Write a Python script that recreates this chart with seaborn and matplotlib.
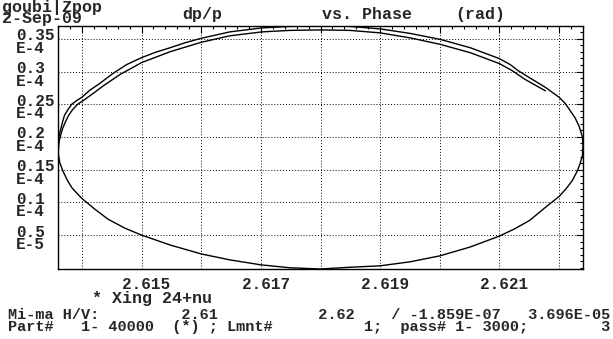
import numpy as np
import pandas as pd
import matplotlib
matplotlib.use("Agg")
import matplotlib.pyplot as plt
from matplotlib.ticker import MultipleLocator
from matplotlib.transforms import ScaledTranslation
import seaborn as sns

# outer turn (closed loop); dp/p in units of 1e-5
phase_outer = [2.61360, 2.61361, 2.61362, 2.61365, 2.61368, 2.61371, 2.61377, 2.61383,
               2.61392, 2.61400, 2.61413, 2.61430, 2.61452, 2.61475, 2.61500, 2.61524,
               2.61548, 2.61573, 2.61600, 2.61648, 2.61702, 2.61749, 2.61800, 2.61849,
               2.61900, 2.61950, 2.62000, 2.62051, 2.62100, 2.62118, 2.62131, 2.62151,
               2.62177, 2.62200, 2.62210, 2.62218, 2.62227, 2.62234, 2.62239, 2.62240,
               2.62239, 2.62235, 2.62230, 2.62222, 2.62212, 2.62200, 2.62177, 2.62151,
               2.62126, 2.62100, 2.62051, 2.62000, 2.61950, 2.61900, 2.61849, 2.61800,
               2.61749, 2.61700, 2.61648, 2.61600, 2.61548, 2.61500, 2.61472, 2.61444,
               2.61422, 2.61400, 2.61392, 2.61383, 2.61375, 2.61368, 2.61363, 2.61361,
               2.61360]
dpp_outer = [1.803, 1.924, 2.030, 2.136, 2.242, 2.333, 2.424, 2.500,
             2.561, 2.606, 2.712, 2.818, 2.970, 3.106, 3.212, 3.296,
             3.364, 3.440, 3.508, 3.606, 3.667, 3.690, 3.696, 3.690,
             3.652, 3.583, 3.493, 3.364, 3.197, 3.106, 3.015, 2.902,
             2.758, 2.606, 2.515, 2.409, 2.288, 2.152, 2.000, 1.864,
             1.712, 1.591, 1.470, 1.333, 1.212, 1.091, 0.924, 0.727,
             0.598, 0.485, 0.318, 0.182, 0.091, 0.030, 0.008, -0.0186,
             0.000, 0.045, 0.121, 0.212, 0.348, 0.500, 0.606, 0.742,
             0.894, 1.061, 1.136, 1.227, 1.349, 1.485, 1.606, 1.712,
             1.803]

# inner turn (open, ends top right)
phase_inner = [2.61360, 2.61361, 2.61362, 2.61365, 2.61368, 2.61373, 2.61378, 2.61385,
               2.61393, 2.61403, 2.61417, 2.61437, 2.61464, 2.61500, 2.61548, 2.61600,
               2.61648, 2.61702, 2.61749, 2.61800, 2.61849, 2.61900, 2.61950, 2.62000,
               2.62051, 2.62100, 2.62121, 2.62143, 2.62177]
dpp_inner = [1.712, 1.833, 1.939, 2.045, 2.136, 2.242, 2.333, 2.424,
             2.500, 2.561, 2.652, 2.788, 2.955, 3.136, 3.303, 3.447,
             3.546, 3.606, 3.629, 3.636, 3.629, 3.591, 3.515, 3.417,
             3.288, 3.121, 3.015, 2.879, 2.705]

xticks = [2.614, 2.615, 2.616, 2.617, 2.618, 2.619, 2.620, 2.621, 2.622]
xlabels = ["", "2.615", "", "2.617", "", "2.619", "", "2.621", ""]
yticks = [0.5e-5, 1.0e-5, 1.5e-5, 2.0e-5, 2.5e-5, 3.0e-5, 3.5e-5]
ylabels = ["0.5\nE-5", "0.1\nE-4", "0.15\nE-4", "0.2\nE-4", "0.25\nE-4", "0.3\nE-4", "0.35\nE-4"]

df = pd.DataFrame({
    "phase": phase_outer + phase_inner,
    "dpp": np.array(dpp_outer + dpp_inner) * 1e-5,
    "turn": ["outer"] * len(phase_outer) + ["inner"] * len(phase_inner),
})

sns.set_style("white")
plt.rcParams["font.family"] = ["Liberation Mono", "DejaVu Sans Mono"]
plt.rcParams["font.weight"] = "bold"

W, H = 613, 339
fig = plt.figure(figsize=(W / 100, H / 100), dpi=100)
ax = fig.add_axes([58 / W, 1 - 269 / H, 525 / W, 243 / H])

sns.lineplot(data=df, x="phase", y="dpp", units="turn", estimator=None, sort=False,
             color="black", lw=1.0, ax=ax)

ax.set_xlim(df["phase"].min(), df["phase"].max())
ax.set_ylim(df["dpp"].min(), df["dpp"].max())
ax.set_xlabel("")
ax.set_ylabel("")

ax.set_xticks(xticks)
ax.set_xticklabels(xlabels, fontsize=11.5, fontweight="bold")
ax.set_yticks(yticks)
ax.set_yticklabels(ylabels, fontsize=11.5, fontweight="bold", ha="left",
                   linespacing=0.8, multialignment="left")
ax.xaxis.set_minor_locator(MultipleLocator(0.0002))
ax.yaxis.set_minor_locator(MultipleLocator(0.1e-5))
ax.tick_params(which="both", direction="in", top=True, right=True, width=0.8, color="black")
ax.tick_params(which="major", length=5)
ax.tick_params(which="minor", length=2.5)
ax.tick_params(axis="x", pad=6)
ax.tick_params(axis="y", pad=30)
for lbl in ax.get_xticklabels():
    lbl.set_transform(lbl.get_transform() + ScaledTranslation(5 / 100, 0, fig.dpi_scale_trans))
for lbl in ax.get_yticklabels():
    lbl.set_transform(lbl.get_transform() + ScaledTranslation(0, -3 / 100, fig.dpi_scale_trans))

ax.grid(True, which="major", color="black", linestyle=(0, (1, 2)), lw=0.7)
for s in ax.spines.values():
    s.set_color("black")
    s.set_linewidth(1.0)


def px_text(x, y, s, size=11.5):
    fig.text(x / W, 1 - y / H, s, fontsize=size, fontweight="bold", va="baseline", ha="left")


px_text(2, 12, "goubi|Zpop", 12)
px_text(2, 23, "2-Sep-09", 12)
px_text(182, 19, "dp/p", 12)
px_text(322, 19, "vs. Phase", 12)
px_text(455, 19, "(rad)", 12)
px_text(92, 303, "* Xing 24+nu", 12)
px_text(8, 319, "Mi-ma H/V:         2.61           2.62    / -1.859E-07   3.696E-05", 11)
px_text(8, 331, "Part#   1- 40000  (*) ; Lmnt#          1;  pass# 1- 3000;        3", 11)

fig.savefig("out.png", dpi=100)
